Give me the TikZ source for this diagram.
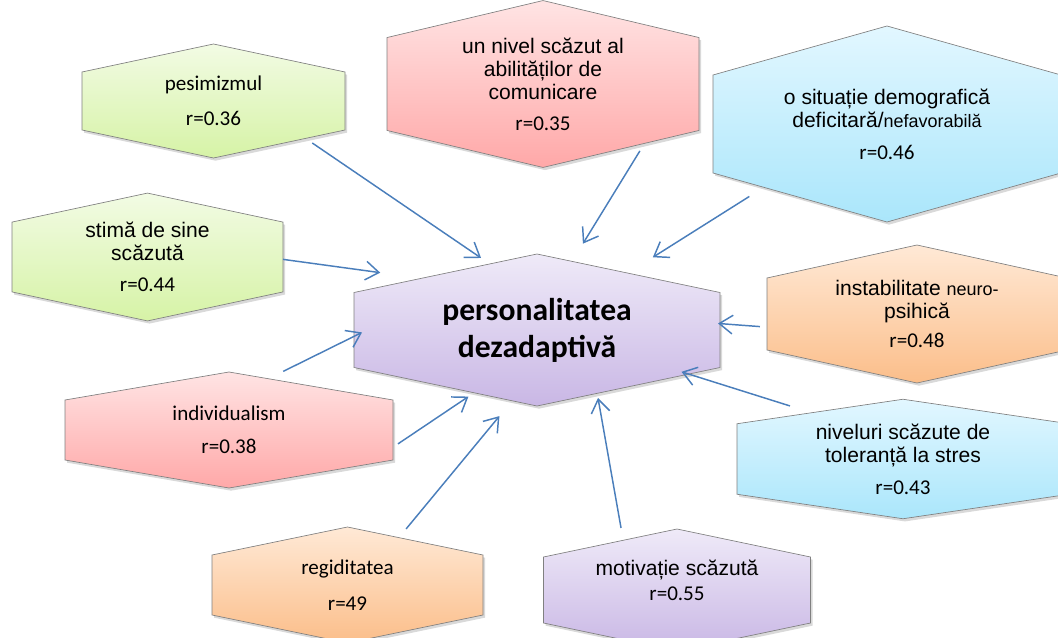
\documentclass[tikz,border=0pt]{standalone}
\usepackage{fontspec}
\setmainfont{Carlito}
\newfontfamily\arialFont{Liberation Sans}
\usepackage{tikz}
\usetikzlibrary{arrows.meta}
\usetikzlibrary{backgrounds}
\usetikzlibrary{shadows}

\definecolor{arrowBlue}{HTML}{4A7EBB}
\definecolor{greenTop}{HTML}{F2FBE4}
\definecolor{greenBot}{HTML}{D6F3A6}
\definecolor{redTop}{HTML}{FFE4E4}
\definecolor{redBot}{HTML}{FFA8A8}
\definecolor{blueTop}{HTML}{E2F7FF}
\definecolor{blueBot}{HTML}{AAE6FB}
\definecolor{orangeTop}{HTML}{FFE9D6}
\definecolor{orangeBot}{HTML}{FBBE8A}
\definecolor{purpleTop}{HTML}{EFEAF8}
\definecolor{purpleBot}{HTML}{C9B7E5}

% hexagon round a box node: name, colour style, height of the point (px)
\newcommand{\hexOutline}[3]{%
  \path[hexFrame,#2] (#1.north west) -- ([yshift=#3*0.75pt]#1.north) -- (#1.north east)
    -- (#1.south east) -- ([yshift=-#3*0.75pt]#1.south) -- (#1.south west) -- cycle;}

\begin{document}
\begin{tikzpicture}[x=0.75pt,y=-0.75pt,
    hexNode/.style={rectangle,inner sep=0pt,outer sep=0pt,align=center,
      font=\fontsize{15.8}{17.3}\selectfont},
    arialText/.style={font=\arialFont\fontsize{15.8}{17.3}\selectfont},
    boxSize/.style 2 args={minimum width=#1*0.75pt,minimum height=#2*0.75pt},
    hexFrame/.style={draw=black!50,line width=0.5pt,
      drop shadow={shadow xshift=1.5pt,shadow yshift=-2pt,opacity=0.3}},
    greenBox/.style={top color=greenTop,bottom color=greenBot},
    redBox/.style={top color=redTop,bottom color=redBot},
    blueBox/.style={top color=blueTop,bottom color=blueBot},
    orangeBox/.style={top color=orangeTop,bottom color=orangeBot},
    purpleBox/.style={top color=purpleTop,bottom color=purpleBot},
    arr/.style={draw=arrowBlue,line width=1.1pt,-{Straight Barb[length=10pt,width=14pt]}}]
  \useasboundingbox (0,0) rectangle (1058,638);

  \node[hexNode,boxSize={366}{75},font=\bfseries\fontsize{23.7}{27.8}\selectfont] (personalitatea) at (537,330) {personalitatea\\dezadaptivă};
  \node[hexNode,boxSize={263}{58}] (pesimizmul) at (213.5,101) {pesimizmul\\[9pt]r=0.36};
  \node[hexNode,arialText,boxSize={271}{60}] (stimaSine) at (147.5,257) {stimă de sine\\scăzută\\[6pt]\rmfamily r=0.44};
  \node[hexNode,arialText,boxSize={312}{74}] (nivelComunicare) at (543,84) {un nivel scăzut al\\abilităților de\\comunicare\\[6pt]\rmfamily r=0.35};
  \node[hexNode,arialText,boxSize={348}{98}] (situatieDemografica) at (887,124) {o situație demografică\\deficitară/{\fontsize{13.5}{17.3}\selectfont nefavorabilă}\\[6.5pt]\rmfamily r=0.46};
  \node[hexNode,arialText,boxSize={300}{72}] (instabilitate) at (917,314) {instabilitate {\fontsize{13.5}{17.3}\selectfont neuro-}\\psihică\\[5pt]\rmfamily r=0.48};
  \node[hexNode,arialText,boxSize={332}{55}] (toleranta) at (903,459) {niveluri scăzute de\\toleranță la stres\\[6.5pt]\rmfamily r=0.43};
  \node[hexNode,boxSize={328}{60}] (individualism) at (229,430) {individualism\\[7.5pt]r=0.38};
  \node[hexNode,boxSize={271}{60}] (regiditatea) at (347.5,585) {regiditatea\\[9.5pt]r=49};
  \node[hexNode,arialText,boxSize={267}{66}] (motivatie) at (677,590) {motivație scăzută\\[1.5pt]\rmfamily r=0.55\rule[-15pt]{0pt}{0pt}};

  \begin{scope}[on background layer]
    \hexOutline{personalitatea}{purpleBox}{38.5}
    \hexOutline{pesimizmul}{greenBox}{28}
    \hexOutline{stimaSine}{greenBox}{29}
    \hexOutline{nivelComunicare}{redBox}{37}
    \hexOutline{situatieDemografica}{blueBox}{49}
    \hexOutline{instabilitate}{orangeBox}{33}
    \hexOutline{toleranta}{blueBox}{24.5}
    \hexOutline{individualism}{redBox}{28}
    \hexOutline{regiditatea}{orangeBox}{28}
    \hexOutline{motivatie}{purpleBox}{28}
  \end{scope}

  \draw[arr,shorten <=17.3pt,shorten >=46pt] (pesimizmul.-20.06) -- (personalitatea.98);
  \draw[arr,shorten >=110pt] (stimaSine.-1.27) -- (personalitatea.107.05);
  \draw[arr,shorten <=18pt,shorten >=43pt] (nivelComunicare.-23.34) -- (personalitatea.67.28);
  \draw[arr,shorten <=33pt,shorten >=49.5pt] (situatieDemografica.206.7) -- (personalitatea.32.98);
  \draw[arr,shorten <=5.3pt,shorten >=-1.5pt] (instabilitate.185.63) -- (personalitatea.2.12);
  \draw[arr,shorten <=44.5pt,shorten >=10.8pt] (toleranta.148.34) -- (personalitatea.-16.54);
  \draw[arr,shorten <=22.1pt,shorten >=23.2pt] (motivatie.147.55) -- (personalitatea.-34.48);
  \draw[arr,shorten <=25.4pt,shorten >=47.3pt] (regiditatea.39.88) -- (personalitatea.-86.49);
  \draw[arr,shorten <=4.5pt,shorten >=39.1pt] (individualism.-6.4) -- (personalitatea.-124.73);
  \draw[arr,shorten <=48.5pt,shorten >=-6.7pt] (individualism.97.97) -- (personalitatea.182.44);
\end{tikzpicture}
\end{document}
